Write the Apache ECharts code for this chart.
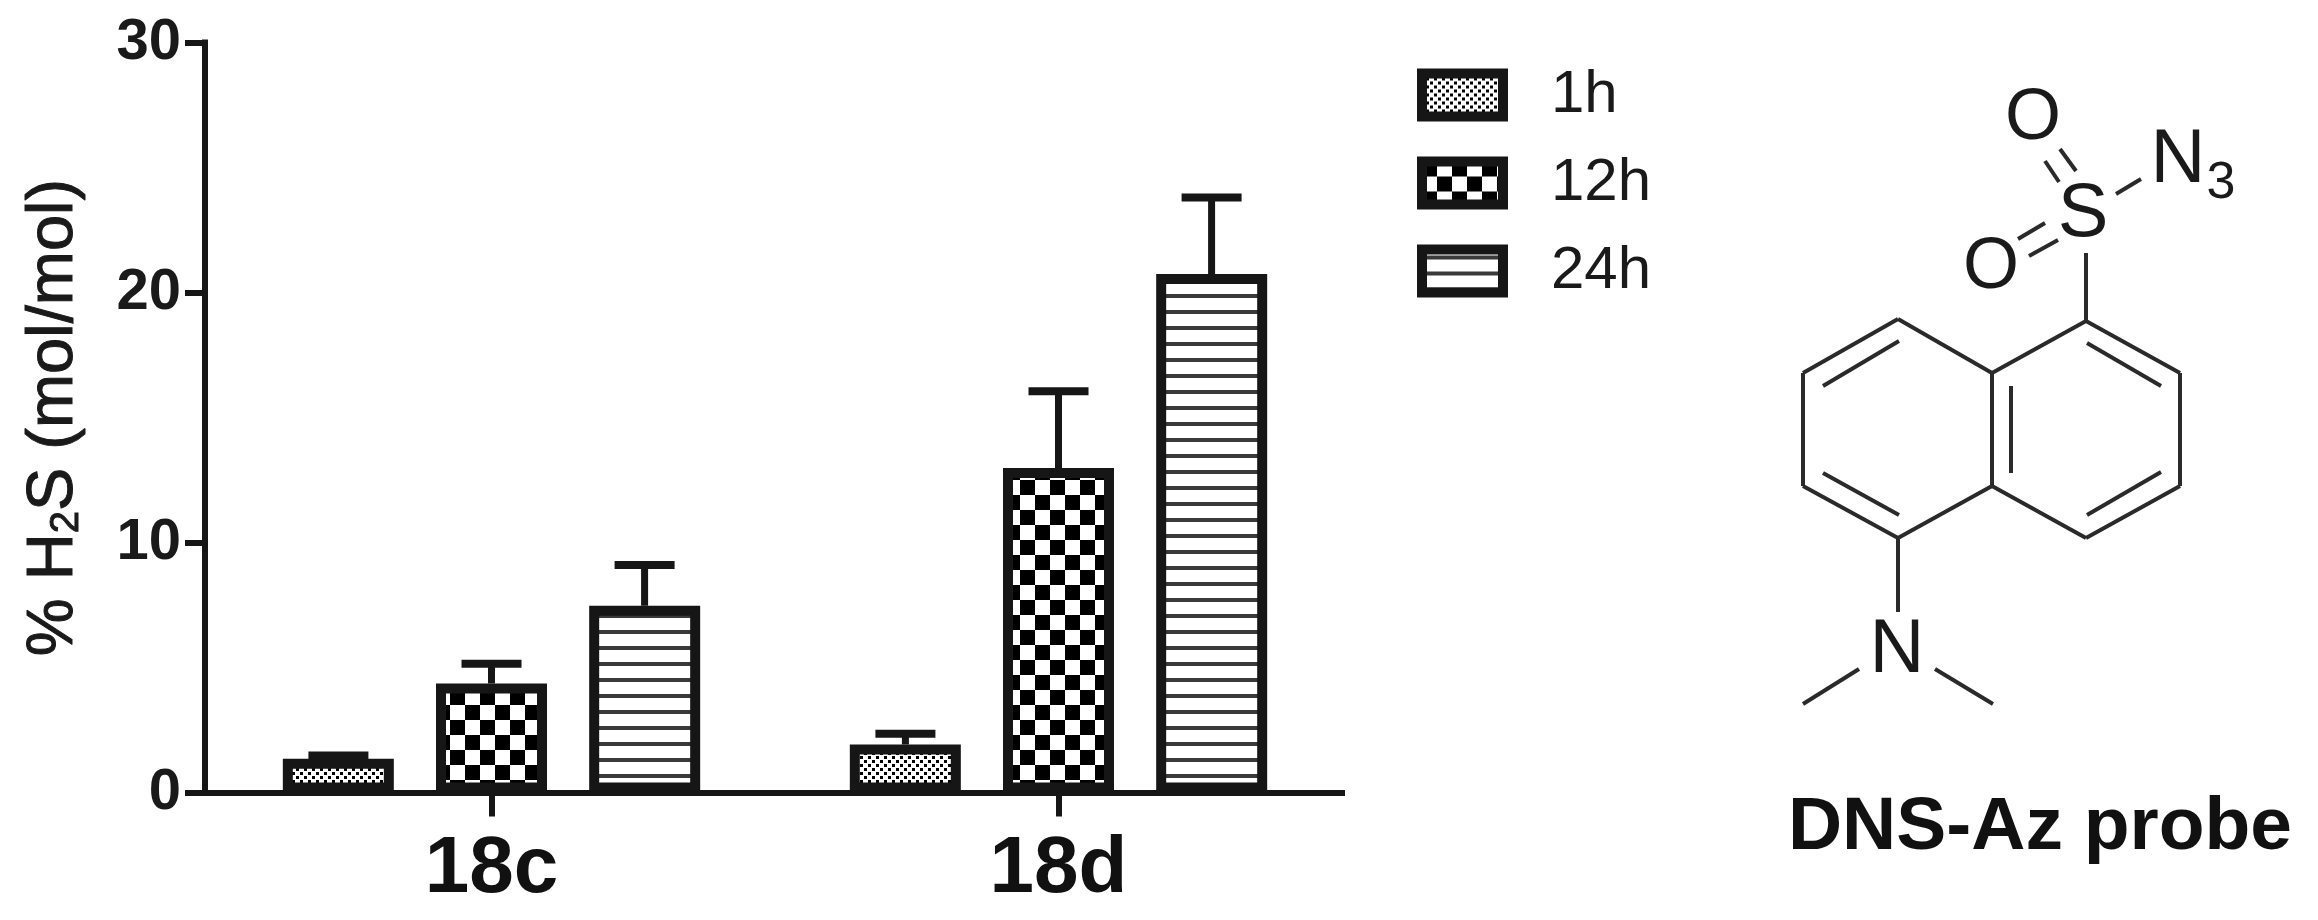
<!DOCTYPE html>
<html>
<head>
<meta charset="utf-8">
<style>
html,body{margin:0;padding:0;background:#fff;}
#chart{width:2318px;height:920px;filter:blur(0.7px);}
</style>
<script src="https://cdn.jsdelivr.net/npm/echarts@6/dist/echarts.min.js"></script>
</head>
<body>
<div id="chart"></div>
<script>
const categories = ['18c', '18d'];
const seriesNames = ['1h', '12h', '24h'];
const values1h = [1.35, 1.92];
const values12h = [4.36, 12.98];
const values24h = [7.47, 20.74];
const errorTop1h = [1.48, 2.35];
const errorTop12h = [5.15, 16.05];
const errorTop24h = [9.1, 23.8];
const yTicks = { min: 0, max: 30, interval: 10 };

const INK = '#161616';

function patternCanvas(w, h, paint) {
  const c = document.createElement('canvas');
  c.width = w; c.height = h;
  const g = c.getContext('2d');
  g.fillStyle = '#fff';
  g.fillRect(0, 0, w, h);
  g.fillStyle = '#000';
  paint(g);
  return c;
}
const patterns = [
  patternCanvas(8, 8, g => { g.fillRect(0, 0, 3, 3); g.fillRect(4, 4, 3, 3); }),
  patternCanvas(30, 30, g => { g.fillRect(0, 0, 15, 15); g.fillRect(15, 15, 15, 15); }),
  patternCanvas(8, 16, g => { g.fillStyle = '#3a3a3a'; g.fillRect(0, 6, 8, 4); })
];

const allValues = [values1h, values12h, values24h];
const allTops = [errorTop1h, errorTop12h, errorTop24h];
const BAR_W = 111;
const GAP_PCT = '38%';
const OFFSET_FRACTION = 0.27;

const barSeries = seriesNames.map((name, i) => ({
  name, type: 'bar', data: allValues[i], barWidth: BAR_W, barGap: GAP_PCT,
  itemStyle: { color: { image: patterns[i], repeat: 'repeat' }, borderColor: INK, borderWidth: 10 },
  z: 2, silent: true
}));

const errorSeries = seriesNames.map((name, i) => ({
  type: 'custom', z: 1, silent: true, clip: false,
  data: categories.map((c, k) => [k, allValues[i][k], allTops[i][k]]),
  encode: { x: 0, y: [1, 2] },
  renderItem(params, api) {
    const k = api.value(0);
    const band = api.size([1, 0])[0];
    const low = api.coord([k, api.value(1)]);
    const top = api.coord([k, api.value(2)]);
    const x = low[0] + (i - 1) * OFFSET_FRACTION * band;
    const st = { stroke: INK, lineWidth: 8, fill: null };
    return { type: 'group', children: [
      { type: 'line', shape: { x1: x, y1: low[1], x2: x, y2: top[1] }, style: { stroke: INK, lineWidth: 7 } },
      { type: 'line', shape: { x1: x - 30, y1: top[1], x2: x + 30, y2: top[1] }, style: st }
    ]};
  }
}));

/* chemical structure drawing (illustration, not data) */
const bondSegments = [
  [2086,321,1992,373],[1992,373,1898,319],[1898,319,1803,373],[1803,373,1803,486],
  [1803,486,1898,538],[1898,538,1992,486],[1992,486,1992,373],[2086,321,2180,373],
  [2180,373,2180,486],[2180,486,2086,538],[2086,538,1992,486],
  [1823,386,1899,341],[1823,473,1899,515],[2011,386,2011,473],[2087,343,2161,386],[2087,515,2161,472],
  [2086,253,2086,321],[1898,538,1898,612],[1803,704,1859,669],[1935,669,1993,704],
  [2045,161,2059,182],[2060,149,2076,171],[2018,239,2045,223],[2029,256,2058,240],[2116,194,2141,179]
];
const structureLabels = [
  ['O', 2033, 119, 72], ['O', 1991, 268, 72], ['S', 2083, 215, 76],
  ['N', 2178, 161, 76], ['3', 2221, 184, 52], ['N', 1897, 651, 76]
];
const graphicItems = bondSegments.map(s => ({
  type: 'line', shape: { x1: s[0], y1: s[1], x2: s[2], y2: s[3] },
  style: { stroke: '#2a2a2a', lineWidth: 4 }, silent: true
})).concat(structureLabels.map(l => ({
  type: 'text', x: l[1], y: l[2], silent: true,
  style: { text: l[0], font: l[3] + 'px "Liberation Sans"', fill: '#1a1a1a', align: 'center', verticalAlign: 'middle' }
}))).concat([{
  type: 'text', x: 2040, y: 828, silent: true,
  style: { text: 'DNS-Az probe', font: 'bold 75px "Liberation Sans"', fill: '#111', align: 'center', verticalAlign: 'middle' }
}]);

const chart = echarts.init(document.getElementById('chart'), null, { renderer: 'canvas' });
chart.setOption({
  animation: false,
  backgroundColor: '#fff',
  textStyle: { fontFamily: '"Liberation Sans"' },
  grid: { left: 208, top: 42.5, width: 1134, height: 750, containLabel: false },
  legend: {
    data: seriesNames, left: 1412, top: 60, orient: 'vertical', icon: 'rect',
    itemWidth: 81, itemHeight: 43, itemGap: 28, selectedMode: false,
    itemStyle: { borderColor: INK, borderWidth: 10 },
    textStyle: { fontSize: 60, color: '#1a1a1a', lineHeight: 43, padding: [0, 0, 0, 43], fontFamily: '"Liberation Sans"' }
  },
  xAxis: {
    type: 'category', data: categories,
    axisLine: { lineStyle: { color: INK, width: 6, cap: 'square' } },
    axisTick: { show: true, alignWithLabel: true, length: 24, lineStyle: { color: INK, width: 6 } },
    axisLabel: { fontSize: 80, fontWeight: 'bold', color: '#111', margin: 37, fontFamily: '"Liberation Sans"' }
  },
  yAxis: {
    type: 'value', min: yTicks.min, max: yTicks.max, interval: yTicks.interval, offset: 3,
    splitLine: { show: false },
    axisLine: { show: true, lineStyle: { color: INK, width: 6, cap: 'square' } },
    axisTick: { show: true, length: 20, lineStyle: { color: INK, width: 6 } },
    axisLabel: { fontSize: 58, fontWeight: 'bold', color: '#1a1a1a', margin: 24, fontFamily: '"Liberation Sans"' },
    name: '% H{s|2}S (mol/mol)', nameLocation: 'middle', nameRotate: 90, nameGap: 118,
    nameTextStyle: {
      fontSize: 65, color: '#1a1a1a', fontFamily: '"Liberation Sans"', textBorderColor: '#1a1a1a', textBorderWidth: 1,
      rich: { s: { fontSize: 40, verticalAlign: 'bottom', color: '#1a1a1a', fontFamily: '"Liberation Sans"', padding: [24, 0, 0, 0], textBorderColor: '#1a1a1a', textBorderWidth: 1 } }
    }
  },
  series: barSeries.concat(errorSeries),
  graphic: { elements: graphicItems }
});
</script>
</body>
</html>
